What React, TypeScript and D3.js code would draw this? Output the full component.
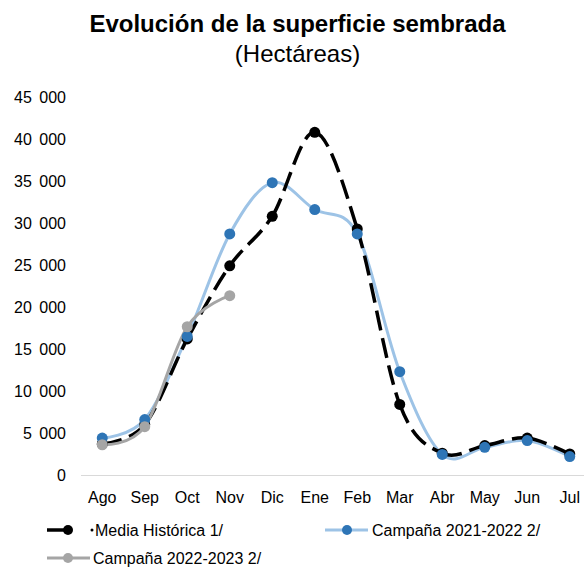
import React from 'react';
import * as d3 from 'd3';

// month categories
const months = ['Ago', 'Sep', 'Oct', 'Nov', 'Dic', 'Ene', 'Feb', 'Mar', 'Abr', 'May', 'Jun', 'Jul'];

// series values (hectares)
const mediaHistorica = [3700, 6000, 16200, 24900, 30800, 40800, 29300, 8400, 2600, 3500, 4400, 2500];
const campana2122 = [4400, 6600, 16500, 28700, 34800, 31600, 28700, 12300, 2450, 3300, 4100, 2200];
const campana2223 = [3600, 5750, 17650, 21350];

const yTicks = [0, 5000, 10000, 15000, 20000, 25000, 30000, 35000, 40000, 45000];

const width = 584;
const height = 567;
const font = "Arial, 'Liberation Sans', sans-serif";

// thousands separated by a space
const fmt = (v: number) => (v === 0 ? '0' : d3.format(',')(v).replace(/,/g, ' '));

// split a smoothed path into one path per segment so dashes restart at each point (like Excel)
const splitSegments = (d: string) => {
  const parts = d.split('C');
  let start = parts[0].replace('M', '');
  const segs: string[] = [];
  for (let i = 1; i < parts.length; i++) {
    segs.push(`M${start}C${parts[i]}`);
    const nums = parts[i].split(',');
    start = `${nums[nums.length - 2]},${nums[nums.length - 1]}`;
  }
  return segs;
};

const App = () => {
  const x = d3.scaleBand<string>().domain(months).range([81, 591]);
  const y = d3.scaleLinear().domain([0, 45000]).range([475, 97]);
  const cx = (m: string) => (x(m) as number) + x.bandwidth() / 2;

  const line = d3
    .line<number>()
    .x((d, i) => cx(months[i]))
    .y(d => y(d))
    .curve(d3.curveCardinal.tension(0));

  const media = { values: mediaHistorica, marker: '#000000' };
  const c2122 = { values: campana2122, marker: '#2E75B6' };
  const c2223 = { values: campana2223, marker: '#A5A5A5' };

  const markers = (s: { values: number[]; marker: string }, key: string) => (
    <g key={key}>
      {s.values.map((v, i) => (
        <circle key={i} cx={cx(months[i])} cy={y(v)} r={5.5} fill={s.marker} />
      ))}
    </g>
  );

  return (
    <svg width={width} height={height} style={{ position: 'absolute', left: 0, top: 0, background: '#fff' }}>
      <rect width={width} height={height} fill="#fff" />
      <text x={297.5} y={32} textAnchor="middle" fontFamily={font} fontWeight="bold" fontSize={24}>
        Evolución de la superficie sembrada
      </text>
      <text x={297.5} y={62} textAnchor="middle" fontFamily={font} fontSize={24}>
        (Hectáreas)
      </text>

      {/* y axis labels */}
      {yTicks.map(t => (
        <text key={t} x={66} y={y(t) + 6} textAnchor="end" fontFamily={font} fontSize={16} wordSpacing={3} fill="#000">
          {fmt(t)}
        </text>
      ))}

      {/* x axis */}
      <line x1={81} x2={584} y1={475.5} y2={475.5} stroke="#D9D9D9" strokeWidth={1} />
      {months.map(m => (
        <text key={m} x={cx(m)} y={503} textAnchor="middle" fontFamily={font} fontSize={16} fill="#000">
          {m}
        </text>
      ))}

      {/* lines */}
      <path d={line(campana2122) as string} fill="none" stroke="#9DC3E6" strokeWidth={3} />
      {splitSegments(line(mediaHistorica) as string).map((d, i) => (
        <path key={i} d={d} fill="none" stroke="#000" strokeWidth={3.5} strokeDasharray="20,8" />
      ))}
      <path d={line(campana2223) as string} fill="none" stroke="#A5A5A5" strokeWidth={3} />

      {/* markers */}
      {markers(media, 'm')}
      {markers(c2122, 'b')}
      {markers(c2223, 'g')}

      {/* legend */}
      <g fontFamily={font} fontSize={16}>
        <line x1={47} x2={70} y1={530} y2={530} stroke="#000" strokeWidth={3.5} />
        <circle cx={68} cy={530} r={5} fill="#000" />
        <circle cx={92} cy={530} r={1.5} fill="#000" />
        <text x={95} y={536}>Media Histórica 1/</text>

        <line x1={325} x2={368} y1={530} y2={530} stroke="#9DC3E6" strokeWidth={3} />
        <circle cx={347} cy={530} r={5} fill="#2E75B6" />
        <text x={372} y={536}>Campaña 2021-2022 2/</text>

        <line x1={47} x2={90} y1={558} y2={558} stroke="#A5A5A5" strokeWidth={3} />
        <circle cx={68} cy={558} r={5} fill="#A5A5A5" />
        <text x={93} y={564}>Campaña 2022-2023 2/</text>
      </g>
    </svg>
  );
};

export default App;
